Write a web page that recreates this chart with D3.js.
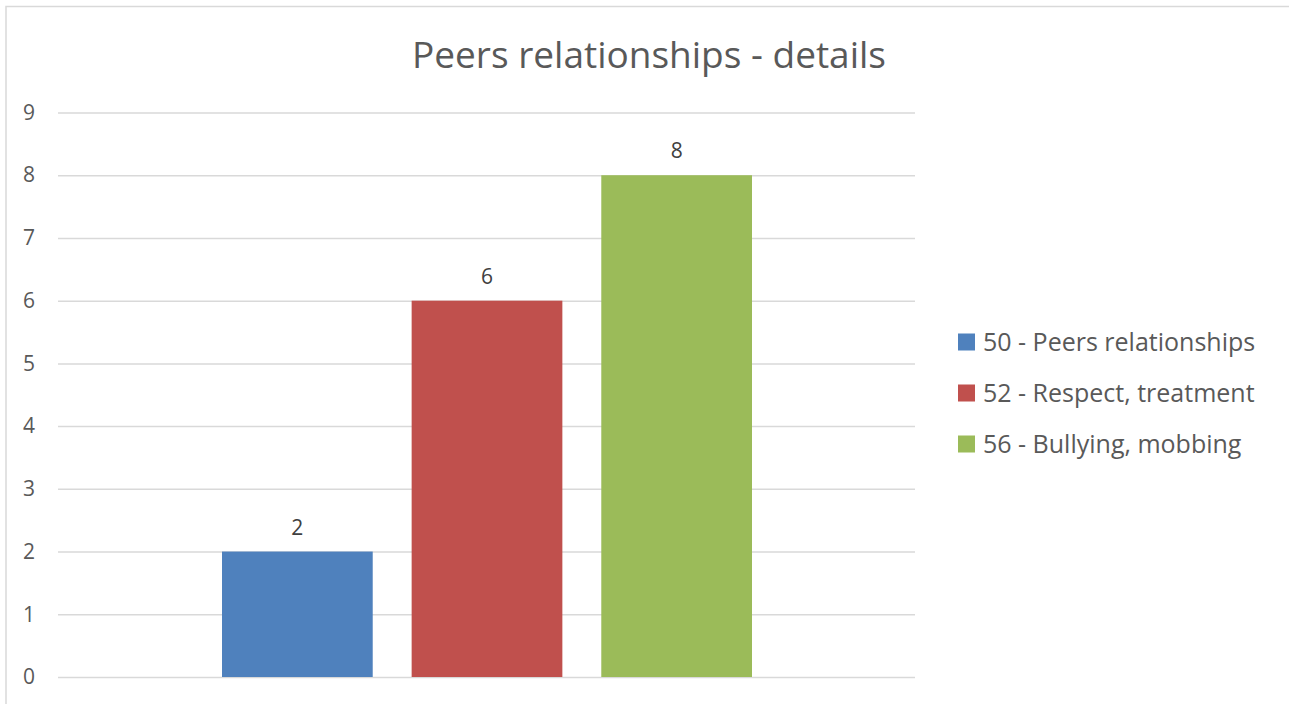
<!DOCTYPE html>
<html><head><meta charset="utf-8">
<script src="https://cdn.jsdelivr.net/npm/d3@7"></script>
<style>body{margin:0;background:#fff}svg{display:block}</style>
</head><body><svg id="c" width="1289" height="704"></svg>
<script>
const title = "Peers relationships - details";
const seriesNames = ["50 - Peers relationships", "52 - Respect, treatment", "56 - Bullying, mobbing"];
const seriesValues = [2, 6, 8];
const seriesColors = ["#4f81bd", "#c0504d", "#9bbb59"];
const yTicks = [0,1,2,3,4,5,6,7,8,9];

const svg = d3.select("#c");
const font = "'Open Sans', 'Noto Sans', sans-serif";
svg.append("rect").attr("x",6).attr("y",6.5).attr("width",1290).attr("height",710)
  .attr("fill","#fff").attr("stroke","#d9d9d9").attr("stroke-width",1.5);

const x0 = 58, x1 = 915, yTop = 112.5, yBot = 677;
const y = d3.scaleLinear().domain([0,9]).range([yBot, yTop]);
const xb = d3.scaleBand().domain(seriesNames).range([222, 752]).paddingInner(39/190);

const yAxis = d3.axisLeft(y).tickValues(yTicks).tickSize(-(x1-x0)).tickPadding(23);
const g = svg.append("g").attr("transform",`translate(${x0},0)`).call(yAxis);
g.select(".domain").remove();
g.selectAll(".tick line").attr("stroke","#d9d9d9").attr("stroke-width",1.5);
g.selectAll(".tick text").attr("fill","#595959").attr("font-family",font).attr("font-size",21);

svg.append("g").selectAll("text").data(seriesValues).join("text")
  .attr("x",(d,i)=>xb(seriesNames[i])+xb.bandwidth()/2).attr("y",d=>y(d)-17)
  .attr("text-anchor","middle").attr("fill","#404040").attr("font-family",font).attr("font-size",21)
  .text(d=>d);

svg.append("g").selectAll("rect").data(seriesValues).join("rect")
  .attr("x",(d,i)=>xb(seriesNames[i])).attr("width",xb.bandwidth())
  .attr("y",d=>y(d)).attr("height",d=>y(0)-y(d))
  .attr("fill",(d,i)=>seriesColors[i]);

svg.append("text").attr("x",649).attr("y",68).attr("text-anchor","middle")
  .attr("fill","#595959").attr("font-family",font).attr("font-size",37).text(title);

const lg = svg.append("g").selectAll("g").data(seriesNames).join("g")
  .attr("transform",(d,i)=>`translate(958,${342+i*51})`);
lg.append("rect").attr("x",0).attr("y",-8.5).attr("width",17).attr("height",17).attr("fill",(d,i)=>seriesColors[i]);
lg.append("text").attr("x",25).attr("y",9).attr("fill","#595959").attr("font-family",font).attr("font-size",25).text(d=>d);
</script></body></html>
